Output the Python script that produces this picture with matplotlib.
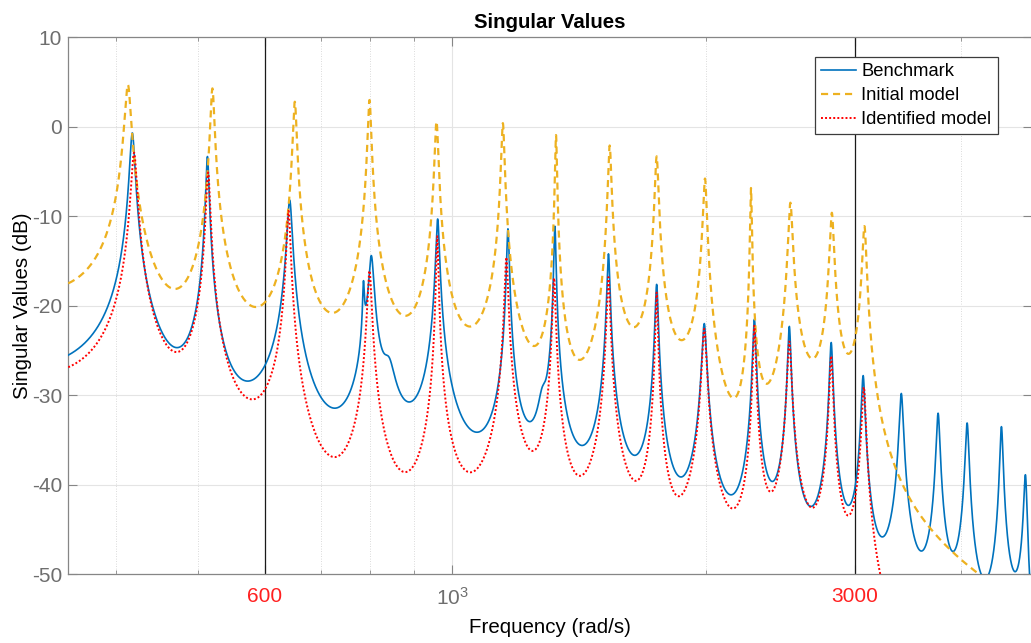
import numpy as np
import matplotlib
matplotlib.use("Agg")
import matplotlib.pyplot as plt
from matplotlib.ticker import FixedLocator, LogLocator, NullFormatter

plt.rcParams["font.family"] = ["Liberation Sans", "DejaVu Sans"]
plt.rcParams["axes.unicode_minus"] = False

# --------------------------------------------------------------------
# values (frequency in rad/s, level in dB)
W_MIN, W_MAX = 351, 4852

bench_peak_w = [418, 513, 642, 802, 961, 1164, 1323, 1531, 1746, 1988,
                2279, 2507, 2810, 3066, 3402, 3761, 4071, 4470, 4773]
bench_peak_db = [-0.7, -3.3, -8.2, -14.4, -10.3, -11.4, -11.1, -14.2, -17.6, -22.0,
                 -21.5, -22.3, -24.1, -27.8, -29.8, -32.0, -33.1, -33.5, -38.9]
# first valley point = left edge of the plot
bench_valley_w = [354, 468, 580, 723, 894, 1058, 1250, 1426, 1642, 1871,
                  2135, 2400, 2655, 2946, 3236, 3594, 3907, 4270, 4636]
bench_valley_db = [-25.3, -24.6, -28.3, -31.4, -30.7, -34.0, -32.5, -35.6, -36.7, -39.1,
                   -41.1, -39.6, -42.4, -42.3, -45.8, -47.4, -47.4, -50.5, -49.7]
# small side resonances of the benchmark (split peak near 800, shoulders)
bench_extra_w = [785, 842, 1278]
bench_extra_db = [-22.0, -33.0, -39.0]
bench_extra_zeta = [0.002, 0.015, 0.010]

init_peak_w = [413, 520, 651, 798, 958, 1148, 1327, 1536, 1746, 1992,
               2258, 2514, 2815, 3077]
init_peak_db = [4.7, 4.3, 2.8, 3.0, 0.6, 0.4, -0.9, -2.1, -3.3, -5.8,
                -6.8, -8.5, -9.6, -11.1]
init_valley_w = [354, 462, 593, 721, 883, 1046, 1233, 1432, 1646, 1866,
                 2096, 2411, 2677, 2949]
init_valley_db = [-17.3, -17.9, -20.0, -20.8, -21.1, -22.3, -24.1, -25.8, -22.3, -23.9,
                  -28.1, -27.0, -25.5, -25.9]
# roll-off after the last mode
init_tail_w = [3221, 3593, 4042]
init_tail_db = [-31.8, -43.0, -49.5]

ident_peak_w = [420, 514, 640, 798, 960, 1159, 1320, 1531, 1746, 1988,
                2279, 2507, 2810, 3072]
ident_peak_db = [-2.9, -5.1, -9.4, -16.1, -12.2, -14.6, -16.9, -16.8, -18.5, -22.6,
                 -22.2, -24.0, -25.6, -29.1]
ident_valley_w = [354, 468, 585, 732, 861, 1068, 1244, 1417, 1642, 1874,
                  2133, 2400, 2661, 2954]
ident_valley_db = [-26.7, -25.1, -30.4, -36.8, -38.0, -38.3, -36.2, -39.0, -39.5, -41.0,
                   -42.5, -40.6, -42.5, -43.4]
ident_tail_w = [3221]
ident_tail_db = [-50.5]

marker_w = [600, 3000]
# --------------------------------------------------------------------


def _mode_resp(w, wn, zeta):
    r = np.asarray(w, float)[:, None] / np.asarray(wn, float)[None, :]
    return 1.0 / (1 - r**2 + 2j * np.asarray(zeta) * r)


def modal_curve(peak_w, peak_db, valley_w, valley_db, extra=None, lam=0.05):
    """modes with alternating-sign residues; residue and damping fitted to the read levels"""
    wn = np.asarray(peak_w, float)
    wv = np.asarray(valley_w, float)
    P = 10 ** (np.asarray(peak_db) / 20)
    V = 10 ** (np.asarray(valley_db) / 20)
    n = len(wn)
    sign = (-1.0) ** np.arange(n)
    w_ref = wv[0]

    if extra is not None:
        we, edb, ez = (np.asarray(v, float) for v in extra)
        ea = 2 * ez * 10 ** (edb / 20)
        extra_mag = lambda w: np.abs(_mode_resp(w, we, ez)) @ ea
    else:
        extra_mag = lambda w: np.zeros(len(np.atleast_1d(w)))

    def mag(w, p):
        a, z, c = np.exp(p[:n]), np.exp(p[n:2 * n]), np.exp(p[2 * n])
        w = np.asarray(w, float)
        h = _mode_resp(w, wn, z) @ (sign * a) + c * (w_ref / w) ** 2
        return np.abs(h) + extra_mag(w)

    pts = np.concatenate([wn, wv])
    target = np.log(np.concatenate([P, V]))

    def resid(p):
        return np.concatenate([np.log(mag(pts, p)) - target, lam * np.diff(p[n:2 * n])])

    z0 = np.full(n, 0.005)
    p = np.concatenate([np.log(2 * z0 * P), np.log(z0), [np.log(0.3 * V[0])]])
    lo = np.concatenate([np.full(n, -30.0), np.full(n, np.log(2e-4)), [np.log(1e-7)]])
    hi = np.concatenate([np.full(n, 0.0), np.full(n, np.log(0.05)), [0.0]])
    m = len(p)
    mu = 1e-2
    for _ in range(80):
        r0 = resid(p)
        J = np.empty((len(r0), m))
        for j in range(m):
            dp = np.zeros(m)
            dp[j] = 1e-6
            J[:, j] = (resid(p + dp) - r0) / 1e-6
        A, g = J.T @ J, J.T @ r0
        cost0 = r0 @ r0
        while mu < 1e9:
            step = np.linalg.solve(A + mu * np.diag(np.diag(A) + 1e-9), -g)
            pn = np.clip(p + step, lo, hi)
            rn = resid(pn)
            if rn @ rn < cost0:
                p, mu = pn, max(mu / 3, 1e-8)
                break
            mu *= 4

    return lambda w: mag(w, p)


w = np.logspace(np.log10(W_MIN), np.log10(W_MAX), 30000)
bench = modal_curve(bench_peak_w, bench_peak_db, bench_valley_w, bench_valley_db,
                    extra=(bench_extra_w, bench_extra_db, bench_extra_zeta))
init = modal_curve(init_peak_w, init_peak_db, init_valley_w + init_tail_w,
                   init_valley_db + init_tail_db)
ident = modal_curve(ident_peak_w, ident_peak_db, ident_valley_w + ident_tail_w,
                    ident_valley_db + ident_tail_db)

fig = plt.figure(figsize=(10.31, 6.43), dpi=100)
ax = fig.add_axes([0.0662, 0.1068, 0.9343, 0.8352])

for xv in marker_w:
    ax.axvline(xv, color="#1a1a1a", lw=0.9, zorder=1.5)

ax.semilogx(w, 20 * np.log10(bench(w)), color="#0072BD", lw=1.2, label="Benchmark", zorder=3)
ax.semilogx(w, 20 * np.log10(init(w)), color="#EDB120", lw=1.6,
            ls=(0, (3.2, 2.2)), label="Initial model", zorder=3)
ax.semilogx(w, 20 * np.log10(ident(w)), color="#FF0000", lw=1.4,
            ls=(0, (1, 1.1)), label="Identified model", zorder=3)

ax.set_xlim(W_MIN, W_MAX)
ax.set_ylim(-50, 10)
ax.set_yticks(np.arange(-50, 11, 10))

ax.xaxis.set_major_locator(FixedLocator([600, 1000, 3000]))
ax.set_xticklabels(["600", r"$\mathregular{10^{3}}$", "3000"])
ax.xaxis.set_minor_locator(LogLocator(base=10, subs=np.arange(2, 10), numticks=20))
ax.xaxis.set_minor_formatter(NullFormatter())

ax.grid(True, which="major", color="#e4e4e4", lw=0.8)
ax.grid(True, which="minor", axis="x", color="#cfcfcf", lw=0.6, ls=(0, (1, 2)))
ax.set_axisbelow(True)

ax.tick_params(which="both", direction="in", top=True, right=True,
               color="#868686", labelsize=15, labelcolor="#6e6e6e")
ax.tick_params(which="major", length=6.5, width=0.8)
ax.tick_params(axis="x", which="major", pad=9)
ax.tick_params(axis="y", which="major", pad=4.5)
ax.tick_params(which="minor", length=3, width=0.6)
for lab, col in zip(ax.get_xticklabels(), ["#FF2020", "#6e6e6e", "#FF2020"]):
    lab.set_color(col)
for side, sp in ax.spines.items():
    sp.set_color("#868686")
    sp.set_linewidth(0.9)
ax.spines["right"].set_visible(False)

ax.set_title("Singular Values", fontsize=14.7, fontweight="bold", pad=7)
ax.set_xlabel("Frequency (rad/s)", fontsize=14.8, labelpad=7)
ax.set_ylabel("Singular Values (dB)", fontsize=14.8, labelpad=0)

leg = ax.legend(loc="upper right", bbox_to_anchor=(0.965, 0.964), borderaxespad=0,
                fontsize=13.2, fancybox=False, framealpha=1, edgecolor="#3c3c3c",
                handlelength=1.9, handletextpad=0.3, labelspacing=0.38,
                borderpad=0.35)
leg.get_frame().set_linewidth(0.9)

fig.savefig("out.png", dpi=100)
